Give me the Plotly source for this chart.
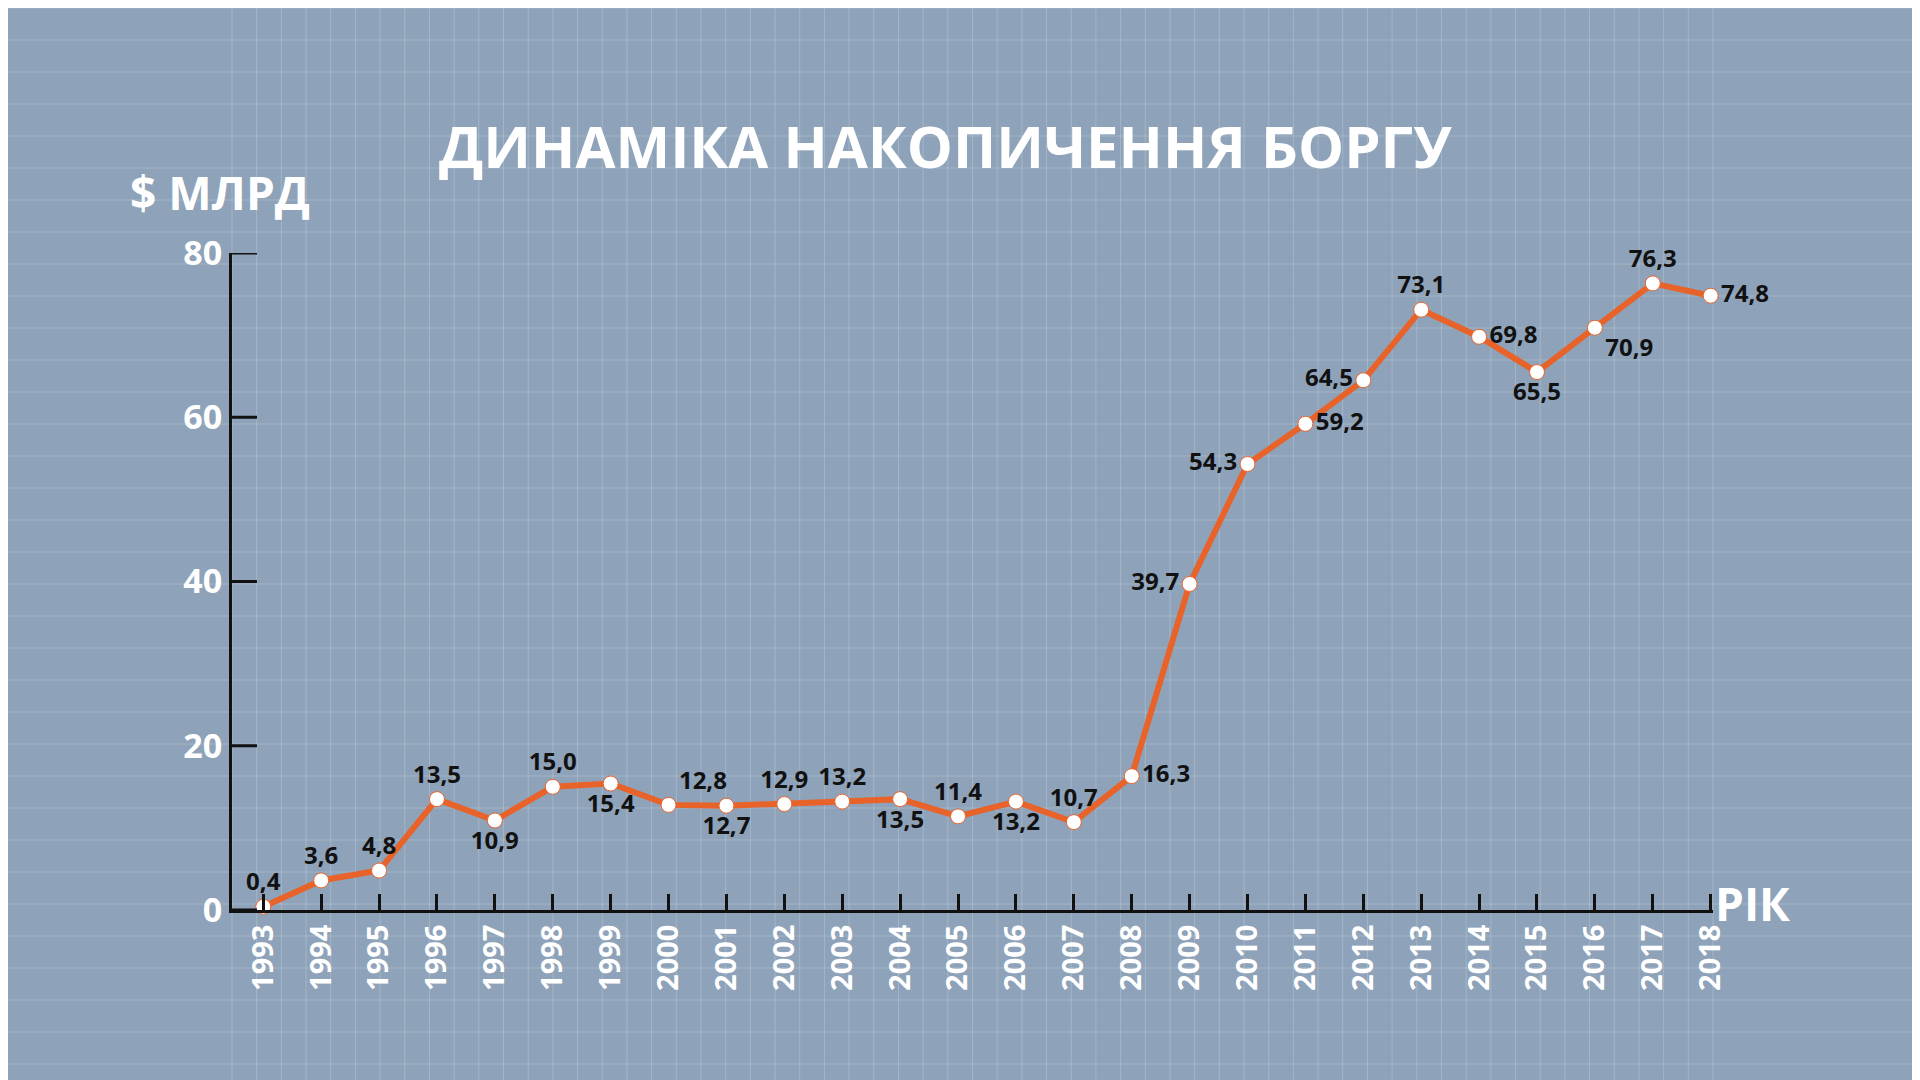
import plotly.graph_objects as go

years = list(range(1993, 2019))
debt = [0.4, 3.6, 4.8, 13.5, 10.9, 15.0, 15.4, 12.8, 12.7, 12.9, 13.2, 13.5, 11.4,
        13.2, 10.7, 16.3, 39.7, 54.3, 59.2, 64.5, 73.1, 69.8, 65.5, 70.9, 76.3, 74.8]
labels = [f"{v:.1f}".replace(".", ",") for v in debt]
positions = ["top center", "top center", "top center", "top center", "bottom center",
             "top center", "bottom center", "top right", "bottom center", "top center",
             "top center", "bottom center", "top center", "bottom center", "top center",
             "middle right", "middle left", "middle left", "middle right", "middle left",
             "top center", "middle right", "bottom center", "bottom right", "top center",
             "middle right"]
y_ticks = [0, 20, 40, 60, 80]

fig = go.Figure()
fig.add_trace(go.Scatter(
    x=years, y=debt, mode="lines+markers+text",
    line=dict(color="#e8632a", width=6),
    marker=dict(color="white", size=15, line=dict(color="#e8632a", width=1)),
    text=["<b>" + t + "</b>" for t in labels], textposition=positions,
    textfont=dict(family="Open Sans", size=24, color="#111"),
    cliponaxis=False, hoverinfo="skip"))

shapes = []
for i in range(0, 1921, 32):
    shapes.append(dict(type="line", xref="paper", yref="paper", x0=i/1920, x1=i/1920,
                       y0=-1, y1=2, line=dict(color="rgba(255,255,255,0.2)", width=1), layer="below"))

W, H, L, R, T, B = 1920, 1080, 224, 215, 245, 178
pw, ph = W - L - R, H - T - B
def px(x): return (x - L) / pw
def py(y): return (H - B - y) / ph

for j in range(0, 1081, 32):
    shapes.append(dict(type="line", xref="paper", yref="paper", y0=py(j), y1=py(j),
                       x0=-1, x1=2, line=dict(color="rgba(255,255,255,0.2)", width=1), layer="below"))

fig.update_layout(
    width=W, height=H, margin=dict(l=L, r=R, t=T, b=B),
    paper_bgcolor="#8ea3b9", plot_bgcolor="rgba(0,0,0,0)",
    showlegend=False, shapes=shapes,
    font=dict(family="Open Sans", color="white"),
    xaxis=dict(range=[1992.46, 2018.04], tickvals=years, ticktext=[f"<b>{y}</b>" for y in years],
               tickangle=-90, ticks="inside", ticklen=16, tickwidth=3, tickcolor="#111",
               showline=True, linecolor="#111", linewidth=3, showgrid=False, zeroline=False,
               tickfont=dict(size=29, color="white", family="Open Sans")),
    yaxis=dict(range=[0, 80], tickvals=y_ticks, ticktext=[f"<b>{v}</b>" for v in y_ticks],
               ticks="outside", ticklen=0,
               showline=True, linecolor="#111", linewidth=3, showgrid=False, zeroline=False,
               tickfont=dict(size=34, color="white", family="Open Sans")),
    annotations=[
        dict(text="<b>ДИНАМІКА НАКОПИЧЕННЯ БОРГУ</b>", x=px(937), y=py(137), xref="paper", yref="paper",
             showarrow=False, yanchor="middle", font=dict(size=58, color="white", family="Open Sans")),
        dict(text="<b>$ МЛРД</b>", x=px(120), y=py(184), xref="paper", yref="paper",
             showarrow=False, xanchor="left", yanchor="middle", font=dict(size=46, color="white", family="Open Sans")),
        dict(text="<b>РІК</b>", x=px(1705), y=py(895), xref="paper", yref="paper",
             showarrow=False, xanchor="left", yanchor="middle", font=dict(size=46, color="white", family="Open Sans")),
    ],
)
for v in y_ticks:
    fig.add_shape(type="line", xref="paper", yref="y", x0=0, x1=25/pw, y0=v, y1=v,
                  line=dict(color="#111", width=3))
fig.write_html("out.html")
